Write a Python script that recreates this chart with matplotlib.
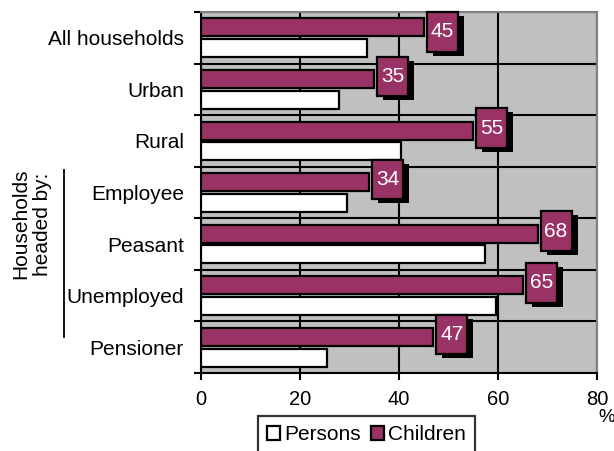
import matplotlib
matplotlib.use("Agg")
import matplotlib.pyplot as plt
from matplotlib.patches import Patch, Rectangle
from matplotlib.transforms import Affine2D, ScaledTranslation
from matplotlib.lines import Line2D

plt.rcParams['font.family'] = ['Liberation Sans', 'DejaVu Sans']

categories = ["All households", "Urban", "Rural", "Employee", "Peasant", "Unemployed", "Pensioner"]
persons = [33.5, 28.0, 40.5, 29.5, 57.4, 59.6, 25.5]
children = [45, 35, 55, 34, 68, 65, 47]
xticks = [0, 20, 40, 60, 80]

PLUM = "#993366"
GRAY = "#C0C0C0"

fig = plt.figure(figsize=(6.14, 4.51), dpi=100)
ax = fig.add_axes([200.5/614, 1-373/451, (597-200.5)/614, (373-12)/451])
ax.set_facecolor(GRAY)

n = len(categories)
ys = list(range(n))
bh = 0.35
ax.barh([y - 0.2 for y in ys], children, height=bh, color=PLUM, edgecolor='black', linewidth=1.6, zorder=3)
ax.barh([y + 0.2 for y in ys], persons, height=bh, color='white', edgecolor='black', linewidth=1.6, zorder=3)

ax.set_xlim(0, 80)
ax.set_ylim(n - 0.5, -0.5)
ax.set_xticks(xticks)
ax.set_xticklabels([str(t) for t in xticks], fontsize=14.5)
ax.set_yticks([y - 0.5 for y in range(n + 1)])
ax.set_yticklabels([])
ax.set_yticks(ys, minor=True)
ax.set_yticklabels(categories, minor=True, fontsize=15)
ax.tick_params(axis='y', which='minor', length=0, pad=12)
ax.tick_params(axis='y', which='major', length=5, width=1.5, direction='out')
ax.tick_params(axis='x', which='major', length=5, width=1.5, direction='out', pad=7)
ax.set_axisbelow(True)
ax.grid(True, which='major', color='black', linewidth=1.5)

for s in ['left', 'bottom']:
    ax.spines[s].set_color('black')
    ax.spines[s].set_linewidth(1.5)
for s in ['top', 'right']:
    ax.spines[s].set_color('#808080')
    ax.spines[s].set_linewidth(1.5)

# value label boxes with shadow
w, h = 31.0, 39.5
px_per_unit = (373 - 12) / n
half_h_units = (h / 2) / px_per_unit
for i, v in enumerate(children):
    yc = max(i - 0.25, -0.5 + half_h_units)
    base = ScaledTranslation(v, yc, ax.transData)
    sh = Affine2D().scale(w, h).translate(3 + 6, -h / 2 - 4) + base
    bx = Affine2D().scale(w, h).translate(3, -h / 2) + base
    ax.add_patch(Rectangle((0, 0), 1, 1, transform=sh, facecolor='black', edgecolor='none', zorder=5, clip_on=False))
    ax.add_patch(Rectangle((0, 0), 1, 1, transform=bx, facecolor=PLUM, edgecolor='black', linewidth=1.6, zorder=6, clip_on=False))
    ax.annotate(str(v), xy=(v, yc), xytext=(3 + w / 2, 0), textcoords='offset pixels',
                ha='center', va='center', color='white', fontsize=15, zorder=7)

# group label
fig.text(32/614, 1 - 224/451, "Households\nheaded by:", rotation=90, ha='center', va='center',
         fontsize=15, multialignment='center', linespacing=1.2)
fig.add_artist(Line2D([63.5/614, 63.5/614], [1 - 170/451, 1 - 337/451], color='black', linewidth=1.3))

fig.text(607/614, 1 - 417/451, "%", ha='center', va='center', fontsize=13.5)

handles = [Patch(facecolor='white', edgecolor='black', linewidth=1.6, label='Persons'),
           Patch(facecolor=PLUM, edgecolor='black', linewidth=1.6, label='Children')]
leg = fig.legend(handles=handles, loc='upper center', bbox_to_anchor=(366.5/614, 1 - 416/451),
                 ncol=2, fontsize=15, handlelength=0.62, handleheight=0.62, handletextpad=0.2,
                 columnspacing=0.5, borderpad=0.45, borderaxespad=0, fancybox=False, frameon=True)
leg.get_frame().set_edgecolor('black')
leg.get_frame().set_linewidth(1.6)

fig.savefig("out.png", dpi=100)
